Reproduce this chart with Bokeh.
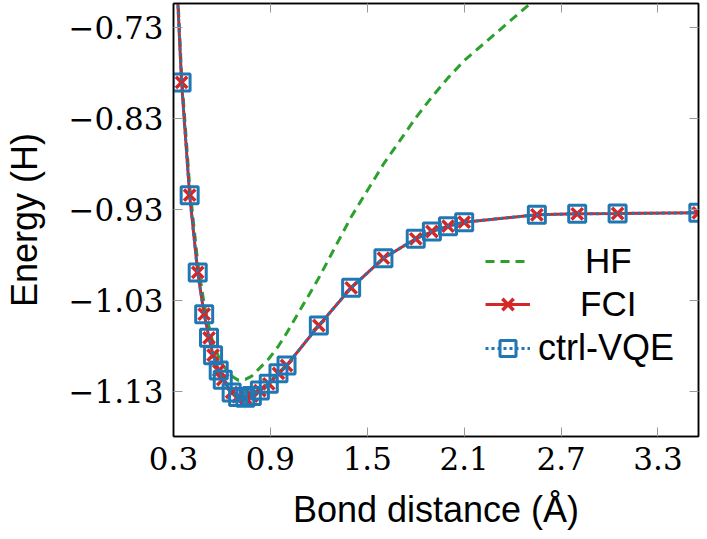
from bokeh.plotting import figure
from bokeh.models import (Range1d, LinearAxis, FixedTicker, CustomJSTickFormatter,
                          Legend, LegendItem)
from bokeh.embed import file_html
from bokeh.resources import INLINE

# ---- data ----
bond = [0.30, 0.35, 0.40, 0.45, 0.49, 0.52, 0.545, 0.58, 0.605, 0.66, 0.70, 0.745,
        0.785, 0.835, 0.89, 0.95, 1.00, 1.20, 1.40, 1.60, 1.80, 1.90, 2.00, 2.10,
        2.55, 2.80, 3.05, 3.55]
fci = [-0.600, -0.790, -0.914, -0.999, -1.045, -1.071, -1.090, -1.107, -1.117, -1.131,
       -1.136, -1.137, -1.135, -1.129, -1.1215, -1.110, -1.1014, -1.0574, -1.0159,
       -0.9834, -0.9620, -0.9540, -0.9482, -0.9437, -0.9356, -0.9345, -0.9342, -0.9334]
ctrl_vqe = [-0.600, -0.790, -0.914, -0.999, -1.045, -1.071, -1.090, -1.107, -1.117, -1.131,
            -1.136, -1.137, -1.135, -1.129, -1.1215, -1.110, -1.1014, -1.0574, -1.0159,
            -0.9834, -0.9620, -0.9540, -0.9482, -0.9437, -0.9356, -0.9345, -0.9342, -0.9334]
hf = [-0.593, -0.782, -0.904, -0.988, -1.034, -1.059, -1.077, -1.092, -1.101, -1.113,
      -1.1175, -1.1167, -1.113, -1.104, -1.094, -1.080, -1.066, -1.005, -0.938,
      -0.880, -0.829, -0.806, -0.785, -0.766, -0.697, -0.666, -0.643, -0.613]
series_names = ["HF", "FCI", "ctrl-VQE"]
x_ticks = [0.3, 0.9, 1.5, 2.1, 2.7, 3.3]
y_ticks = [-1.13, -1.03, -0.93, -0.83, -0.73]
x_label = "Bond distance (Å)"
y_label = "Energy (H)"

GREEN = "#2ca02c"
RED = "#d62728"
BLUE = "#1f77b4"
TICK_FONT = "DejaVu Serif"
LABEL_FONT = "Liberation Sans"

p = figure(frame_width=525, frame_height=433, output_backend="svg", toolbar_location=None,
           x_range=Range1d(0.3, 3.551), y_range=Range1d(-1.1795, -0.7032),
           min_border_left=173, min_border_right=9, min_border_top=3,
           min_border_bottom=103)
p.grid.visible = False
p.outline_line_color = "black"
p.outline_line_width = 1.5
p.background_fill_color = "white"
p.border_fill_color = "white"

xf = CustomJSTickFormatter(code="return tick.toFixed(1);")
yf = CustomJSTickFormatter(code='return (tick < 0 ? "\\u2212" : "") + Math.abs(tick).toFixed(2);')
blank = CustomJSTickFormatter(code='return "";')

for ax, ticks, fmt in ((p.xaxis[0], x_ticks, xf), (p.yaxis[0], y_ticks, yf)):
    ax.ticker = FixedTicker(ticks=ticks)
    ax.formatter = fmt
    ax.minor_tick_line_color = None
    ax.major_tick_in = 9
    ax.major_tick_out = 0
    ax.major_tick_line_color = "#999999"
    ax.axis_line_color = "black"
    ax.axis_line_width = 1.5
    ax.major_label_text_font = TICK_FONT
    ax.major_label_text_font_size = "31px"
    ax.major_label_text_color = "black"
    ax.axis_label_text_font = LABEL_FONT
    ax.axis_label_text_font_size = "36px"
    ax.axis_label_text_font_style = "normal"
    ax.axis_label_text_color = "black"

p.xaxis[0].axis_label = x_label
p.yaxis[0].axis_label = y_label
p.xaxis[0].major_label_standoff = 10
p.xaxis[0].axis_label_standoff = 16
p.yaxis[0].major_label_standoff = 10
p.yaxis[0].axis_label_standoff = 21

for loc, ticks in (("above", x_ticks), ("right", y_ticks)):
    ax = LinearAxis(ticker=FixedTicker(ticks=ticks), formatter=blank,
                    major_label_text_font_size="0px", major_label_standoff=0,
                    major_tick_in=9, major_tick_out=0, major_tick_line_color="#999999",
                    minor_tick_line_color=None, axis_line_color="black",
                    axis_line_width=1.5)
    p.add_layout(ax, loc)

r_hf = p.line(bond, hf, line_color=GREEN, line_width=3, line_dash="9 6")
r_fci_l = p.line(bond, fci, line_color=RED, line_width=3)
r_fci_m = p.scatter(bond, fci, marker="x", size=16, line_color=RED, line_width=3.5)
r_vqe_l = p.line(bond, ctrl_vqe, line_color=BLUE, line_width=3, line_dash="3 3")
r_vqe_m = p.scatter(bond, ctrl_vqe, marker="square", size=17, line_color=BLUE,
                    line_width=3, fill_color=None)

# one legend per entry so that each label can sit where the reference puts it
entries = [
    (series_names[0], [r_hf], 155, 55, "35px"),
    (series_names[1], [r_fci_l, r_fci_m], 112, 50, "35px"),
    (series_names[2], [r_vqe_l, r_vqe_m], 67, 8, "36px"),
]
for name, rends, ypos, standoff, fsize in entries:
    lg = Legend(items=[LegendItem(label=name, renderers=rends)], location=(312, ypos))
    lg.border_line_color = None
    lg.background_fill_alpha = 0
    lg.padding = 0
    lg.margin = 0
    lg.glyph_width = 45
    lg.glyph_height = 40
    lg.label_height = 40
    lg.label_standoff = standoff
    lg.label_text_font = LABEL_FONT
    lg.label_text_font_size = fsize
    lg.label_text_color = "black"
    p.add_layout(lg, "center")

open("out.html", "w").write(file_html(p, INLINE))
